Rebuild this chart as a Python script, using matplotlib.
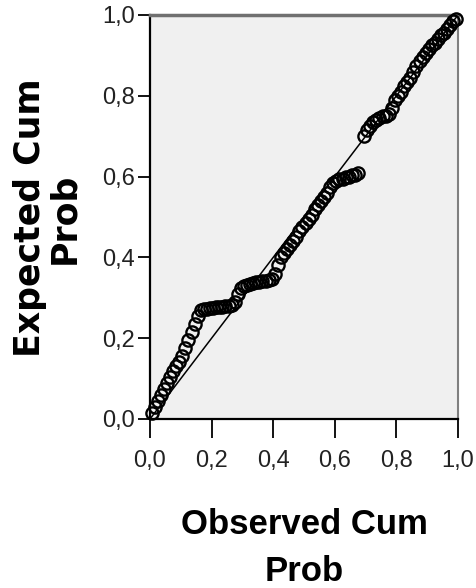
import numpy as np
import matplotlib.pyplot as plt
from matplotlib.ticker import FuncFormatter

# observed cumulative probability (x) and expected cumulative probability (y)
obs_low = [0.005, 0.015, 0.025, 0.035, 0.045, 0.055, 0.065, 0.075, 0.085, 0.095,
           0.105, 0.115, 0.125, 0.135, 0.145, 0.155]
exp_low = [0.015, 0.030, 0.045, 0.060, 0.075, 0.090, 0.105, 0.120, 0.130, 0.140,
           0.155, 0.175, 0.195, 0.215, 0.235, 0.255]

obs_mid = [0.165, 0.175, 0.185, 0.195, 0.205, 0.215, 0.225, 0.235, 0.245, 0.255, 0.265,
           0.275, 0.285, 0.295,
           0.305, 0.315, 0.325, 0.335, 0.345, 0.355, 0.365, 0.375, 0.385, 0.395,
           0.405, 0.415, 0.425, 0.435, 0.445, 0.455, 0.465, 0.475, 0.485, 0.495,
           0.505, 0.515, 0.525, 0.535, 0.545, 0.555, 0.565, 0.575, 0.585, 0.595,
           0.605, 0.615, 0.625, 0.635, 0.645, 0.655, 0.665, 0.675]
exp_mid = [0.270, 0.272, 0.273, 0.274, 0.275, 0.276, 0.277, 0.278, 0.279, 0.280, 0.282,
           0.290, 0.310, 0.325,
           0.330, 0.332, 0.334, 0.336, 0.338, 0.340, 0.341, 0.342, 0.344, 0.346,
           0.360, 0.380, 0.400, 0.410, 0.420, 0.430, 0.440, 0.450, 0.465, 0.475,
           0.485, 0.495, 0.505, 0.520, 0.530, 0.540, 0.550, 0.560, 0.575, 0.585,
           0.590, 0.595, 0.595, 0.600, 0.600, 0.605, 0.605, 0.610]

obs_high = [0.695, 0.705, 0.715, 0.725, 0.735, 0.745, 0.755, 0.765, 0.775, 0.785,
            0.795, 0.805, 0.815, 0.825, 0.835, 0.845, 0.855, 0.865, 0.875, 0.885,
            0.895, 0.905, 0.915, 0.925, 0.935, 0.945, 0.955, 0.965, 0.975, 0.985, 0.995]
exp_high = [0.700, 0.715, 0.725, 0.735, 0.740, 0.745, 0.750, 0.750, 0.755, 0.770,
            0.790, 0.800, 0.810, 0.825, 0.835, 0.845, 0.860, 0.875, 0.885, 0.895,
            0.905, 0.915, 0.925, 0.930, 0.940, 0.950, 0.955, 0.965, 0.975, 0.985, 0.990]

ticks = [0.0, 0.2, 0.4, 0.6, 0.8, 1.0]

obs = np.array(obs_low + obs_mid + obs_high)
exp = np.array(exp_low + exp_mid + exp_high)

comma = FuncFormatter(lambda v, p: ('%.1f' % v).replace('.', ','))

fig = plt.figure(figsize=(4.77, 5.88), dpi=100)
ax = fig.add_axes([150 / 477, 1 - 419 / 588, 308 / 477, 404 / 588])
ax.set_facecolor('#f0f0f0')

# reference line
ax.plot([0, 1], [0, 1], color='black', lw=1.1, zorder=2)
ax.plot(obs, exp, 'o', ms=8.8, mfc='none', mec='black', mew=1.7, clip_on=False, zorder=3)

ax.set_xlim(0, 1)
ax.set_ylim(0, 1)
ax.set_xticks(ticks)
ax.set_yticks(ticks)
ax.xaxis.set_major_formatter(comma)
ax.yaxis.set_major_formatter(comma)
ax.tick_params(axis='x', direction='out', length=14, width=1.3, pad=8)
ax.tick_params(axis='y', direction='out', length=9, width=1.3, pad=2)
for lab in ax.get_xticklabels() + ax.get_yticklabels():
    lab.set_family('Liberation Sans')
    lab.set_fontsize(17)
    lab.set_color('#222222')

for s in ['left', 'bottom']:
    ax.spines[s].set_linewidth(1.6)
    ax.spines[s].set_color('black')
ax.spines['top'].set_linewidth(2.5)
ax.spines['top'].set_color('#707070')
ax.spines['right'].set_linewidth(1.5)
ax.spines['right'].set_color('#808080')

fig.text(304 / 477, 1 - 508 / 588, 'Observed Cum\nProb', ha='center', va='top',
         family='Liberation Sans', fontweight='bold', fontsize=25, linespacing=1.55)
fig.text(47 / 477, 1 - 218 / 588, 'Expected Cum\nProb', ha='center', va='center',
         rotation=90, family='DejaVu Sans', fontweight='bold', fontsize=25, linespacing=1.0)

fig.savefig('out.png', dpi=100)
